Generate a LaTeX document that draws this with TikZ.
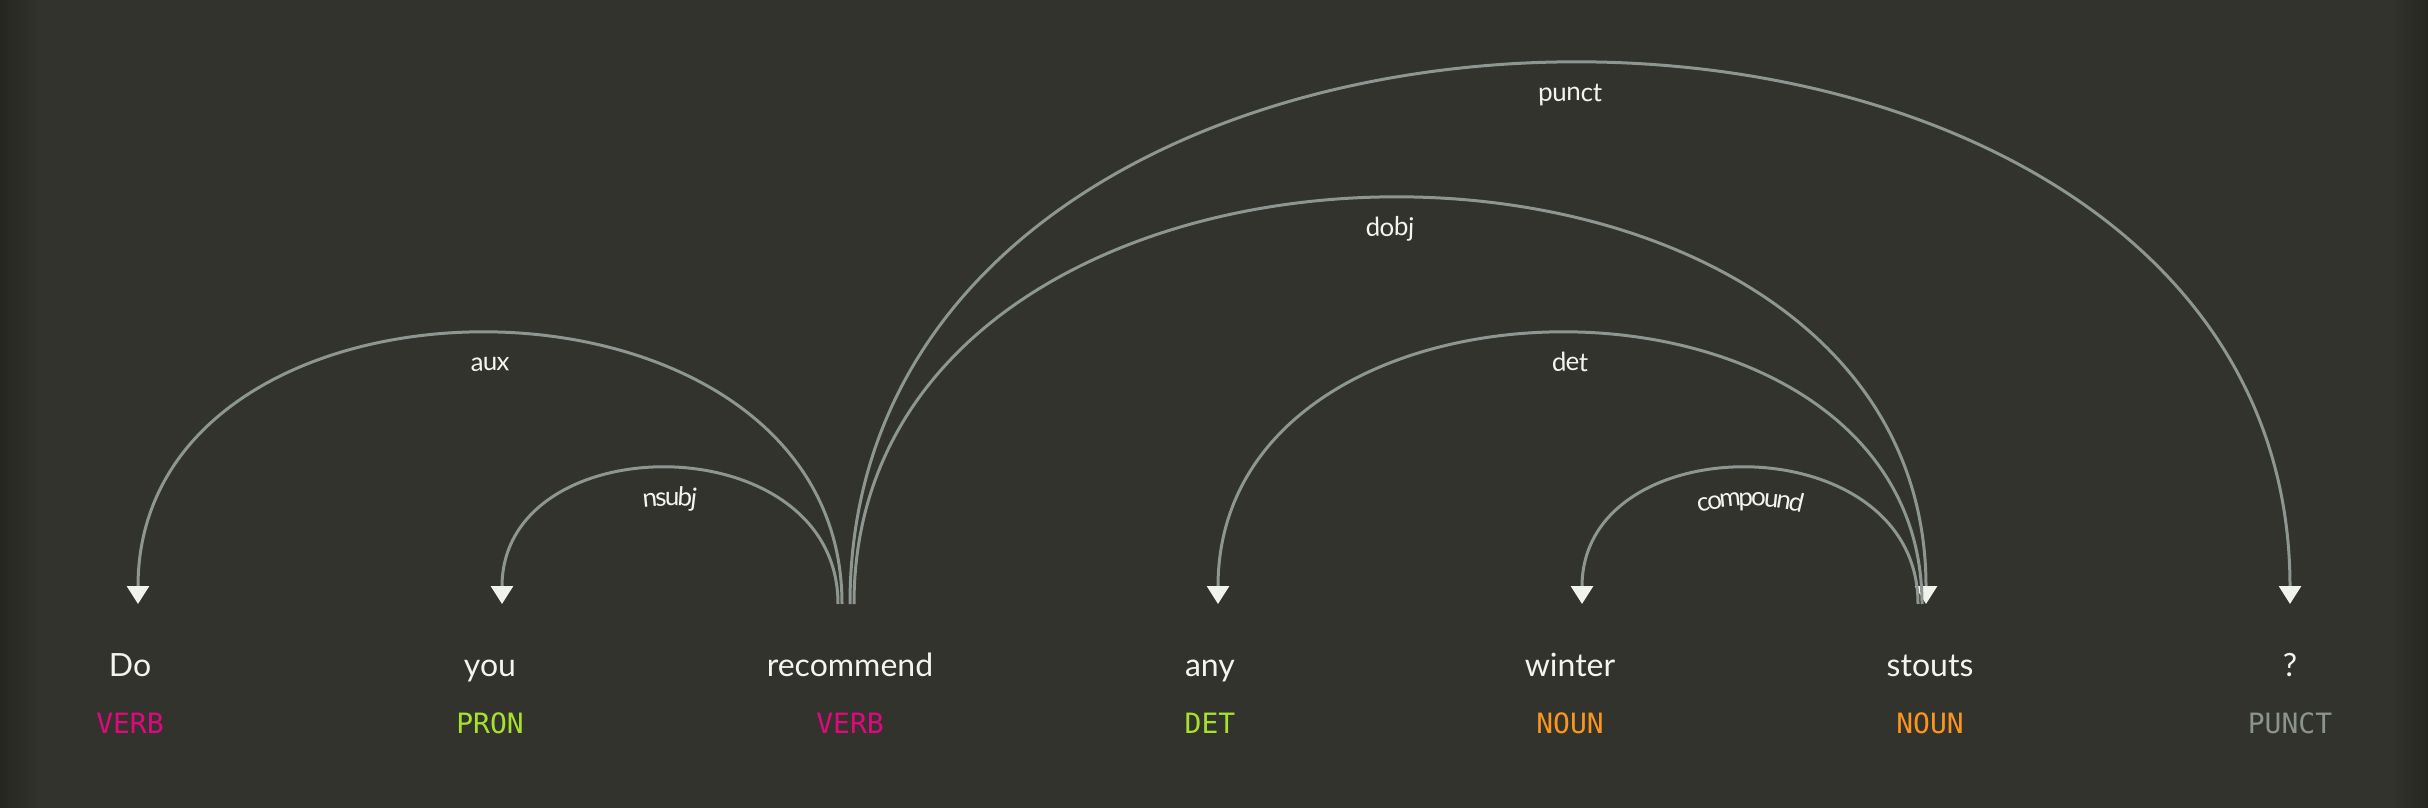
\documentclass[tikz,border=0pt]{standalone}
\usepackage{fontspec}
\usetikzlibrary{arrows.meta,decorations.text,positioning}
\newfontfamily\wordfamily{Lato}
\newfontfamily\tagfamily{DejaVu Sans Mono}
\newcommand{\wordfont}{\wordfamily\fontsize{32}{32}\selectfont}
\newcommand{\tagfont}{\tagfamily\fontsize{28}{28}\selectfont}
\newcommand{\lblfont}{\wordfamily\fontsize{26}{26}\selectfont\color{lblcol}}
\definecolor{bgcol}{RGB}{50,51,45}
\definecolor{edgecol}{RGB}{36,37,32}
\definecolor{arccol}{RGB}{141,150,144}
\definecolor{tipcol}{RGB}{242,242,236}
\definecolor{wordcol}{RGB}{244,244,239}
\definecolor{lblcol}{RGB}{244,244,239}
\definecolor{verbcol}{RGB}{224,8,126}
\definecolor{greencol}{RGB}{168,224,44}
\definecolor{nouncol}{RGB}{250,150,30}
\definecolor{punctcol}{RGB}{140,148,142}
\tikzset{word node/.style={anchor=base,inner sep=0pt,text=wordcol,font=\wordfont},
         tag node/.style={anchor=base,inner sep=0pt,font=\tagfont},
         dep arc/.style={draw=arccol,line width=3pt},
         head left/.style={dep arc,{Triangle[length=18pt,width=22pt,color=tipcol]}-},
         head right/.style={dep arc,-{Triangle[length=18pt,width=22pt,color=tipcol]}},
         dep label/.style={postaction={decorate,decoration={text along path,text align=center,raise=-37pt,text={|\lblfont|#1}}}}
}

\begin{document}
\begin{tikzpicture}[x=1pt,y=1pt]
\useasboundingbox (0,0) rectangle (2428,807);
\fill[bgcol] (-3,-3) rectangle (2431,810);
\shade[left color=edgecol,right color=bgcol] (-3,-3) rectangle (40,810);
\shade[left color=bgcol,right color=edgecol] (2392,-3) rectangle (2431,810);

% words
\node[word node] (w0) at (130,131) {Do};
\node[word node] (w1) at (490,131) {you};
\node[word node] (w2) at (850,131) {recommend};
\node[word node] (w3) at (1210,131) {any};
\node[word node] (w4) at (1570,131) {winter};
\node[word node] (w5) at (1930,131) {stouts};
\node[word node] (w6) at (2290,131) {?};

% tags
\node[below=57pt of w0.base,tag node,text=verbcol] (t0) {VERB};
\node[below=57pt of w1.base,tag node,text=greencol] (t1) {PRON};
\node[below=57pt of w2.base,tag node,text=verbcol] (t2) {VERB};
\node[below=57pt of w3.base,tag node,text=greencol] (t3) {DET};
\node[below=57pt of w4.base,tag node,text=nouncol] (t4) {NOUN};
\node[below=57pt of w5.base,tag node,text=nouncol] (t5) {NOUN};
\node[below=57pt of w6.base,tag node,text=punctcol] (t6) {PUNCT};

% arc ends
\coordinate (aux-l) at ([xshift=8pt,yshift=72pt]w0.base);
\coordinate (aux-r) at ([xshift=-8pt,yshift=72pt]w2.base);
\coordinate (nsubj-l) at ([xshift=12pt,yshift=72pt]w1.base);
\coordinate (nsubj-r) at ([xshift=-12pt,yshift=72pt]w2.base);
\coordinate (punct-l) at ([yshift=72pt]w2.base);
\coordinate (punct-r) at ([yshift=72pt]w6.base);
\coordinate (dobj-l) at ([xshift=4pt,yshift=72pt]w2.base);
\coordinate (dobj-r) at ([xshift=-4pt,yshift=72pt]w5.base);
\coordinate (det-l) at ([xshift=8pt,yshift=72pt]w3.base);
\coordinate (det-r) at ([xshift=-8pt,yshift=72pt]w5.base);
\coordinate (comp-l) at ([xshift=12pt,yshift=72pt]w4.base);
\coordinate (comp-r) at ([xshift=-12pt,yshift=72pt]w5.base);

% arcs
\draw[head left,dep label=aux] (aux-l) .. controls +(0,360) and +(0,360) .. (aux-r);
\draw[head left,dep label=nsubj] (nsubj-l) .. controls +(0,180) and +(0,180) .. (nsubj-r);
\draw[head right,dep label=punct] (punct-l) .. controls +(0,720) and +(0,720) .. (punct-r);
\draw[head right,dep label=dobj] (dobj-l) .. controls +(0,540) and +(0,540) .. (dobj-r);
\draw[head left,dep label=det] (det-l) .. controls +(0,360) and +(0,360) .. (det-r);
\draw[head left,dep label=compound] (comp-l) .. controls +(0,180) and +(0,180) .. (comp-r);
\end{tikzpicture}
\end{document}
